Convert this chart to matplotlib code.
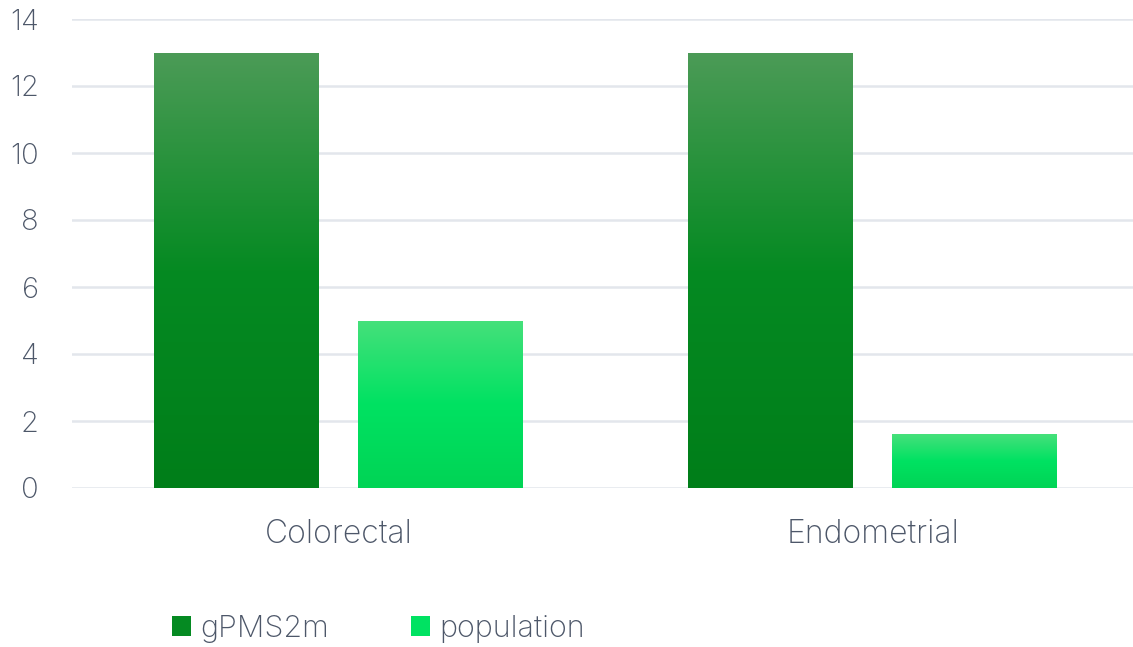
import matplotlib
matplotlib.use("Agg")
import matplotlib.pyplot as plt
import numpy as np
from matplotlib.colors import LinearSegmentedColormap
from matplotlib.patches import Patch

# Data
categories = ["Colorectal", "Endometrial"]
series_names = ["gPMS2m", "population"]
gpms2m = [13, 13]
population = [5.0, 1.6]
y_ticks = [0, 2, 4, 6, 8, 10, 12, 14]

# Gradient stops (top, middle, bottom) per series
dark_stops = ["#4c9b57", "#058a22", "#007e19"]
light_stops = ["#46e07b", "#00e262", "#00d455"]
text_color = "#4d5769"
grid_color = "#e3e6ec"

plt.rcParams['font.family'] = ['Inter', 'DejaVu Sans']
plt.rcParams['font.weight'] = 'light'

fig = plt.figure(figsize=(11.33, 6.47), dpi=100)
ax = fig.add_axes([72 / 1133, 159 / 647, 1 - 72 / 1133, 469 / 647])

x = np.arange(len(categories))
width = 0.309
offset = 0.191


def gradient_bars(xpos, vals, stops):
    bars = ax.bar(xpos, vals, width, color="none", zorder=3)
    cmap = LinearSegmentedColormap.from_list("g", stops[::-1])
    grad = np.linspace(0, 1, 256).reshape(-1, 1)
    for b in bars:
        x0, y0 = b.get_x(), b.get_y()
        im = ax.imshow(grad, cmap=cmap, aspect="auto", origin="lower",
                       extent=[x0, x0 + b.get_width(), y0, y0 + b.get_height()],
                       zorder=3)
        im.set_clip_path(b)
    return bars


gradient_bars(x - offset, gpms2m, dark_stops)
gradient_bars(x + offset, population, light_stops)

ax.set_xlim(-0.5, 1.487)
ax.set_ylim(0, 14)
ax.set_yticks(y_ticks)
ax.set_xticks(x)
ax.set_xticklabels(categories)
ax.tick_params(axis="y", length=0, pad=24, labelsize=21, labelcolor=text_color)
ax.tick_params(axis="x", length=0, pad=22, labelsize=23, labelcolor=text_color)
ax.grid(axis="y", color=grid_color, lw=1.8, zorder=0)
ax.set_axisbelow(True)
for s in ax.spines.values():
    s.set_visible(False)

handles = [Patch(facecolor=dark_stops[1], edgecolor="none"),
           Patch(facecolor=light_stops[1], edgecolor="none")]
leg = fig.legend(handles, series_names, loc="center left",
                 bbox_to_anchor=(172 / 1133, 1 - 629 / 647), ncol=2,
                 frameon=False, fontsize=22, handlelength=0.62,
                 handleheight=0.62, handletextpad=0.3, columnspacing=2.7,
                 borderpad=0, borderaxespad=0)
for t in leg.get_texts():
    t.set_color(text_color)

fig.savefig("out.png", dpi=100)
